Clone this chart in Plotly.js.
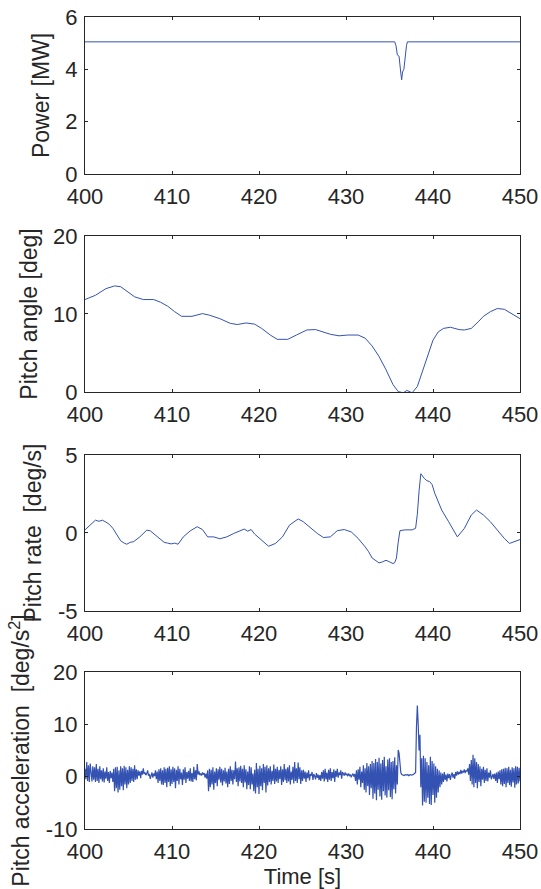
<!DOCTYPE html>
<html>
<head>
<meta charset="utf-8">
<script src="https://cdn.plot.ly/plotly-3.0.1.min.js"></script>
<style>html,body{margin:0;padding:0;background:#fff;}#chart{width:541px;height:889px;}</style>
</head>
<body>
<div id="chart"></div>
<script>
// ---------- DATA ----------
const xTicks = [400, 410, 420, 430, 440, 450];

// Power [MW]
const powerTime = [400, 435.6, 435.75, 435.9, 436.1, 436.2, 436.3, 436.4, 436.5, 436.65, 436.8, 436.95, 437.05, 450];
const powerVal  = [5.05, 5.05, 4.9, 4.55, 4.5, 3.95, 3.85, 3.6, 3.9, 4.0, 4.55, 4.9, 5.05, 5.05];

// Pitch angle [deg]
const angleTime = [400, 401.2, 402.4, 403.4, 404.1, 405, 405.7, 406.7, 407.9, 408.7, 409.5, 410.3, 411.1, 412.3, 413.5, 414.3, 415.5, 416.7, 417.5, 418.5, 419.5, 420.3, 421.3, 422.1, 423.3, 424.3, 425.5, 426.5, 427.4, 428.2, 429.2, 430.2, 431.4, 432.2, 433, 433.8, 434.6, 435.4, 436, 436.6, 437, 437.6, 438.2, 438.8, 439.4, 440, 440.6, 441.2, 442, 443, 443.6, 444.4, 445.2, 445.8, 446.6, 447.4, 448.2, 449, 450];
const angleVal  = [11.85, 12.4, 13.25, 13.6, 13.5, 12.8, 12.2, 11.85, 11.85, 11.5, 11.0, 10.3, 9.7, 9.7, 10.05, 9.85, 9.4, 8.8, 8.65, 8.85, 8.7, 8.15, 7.3, 6.75, 6.75, 7.3, 7.95, 8.0, 7.7, 7.4, 7.2, 7.3, 7.3, 6.9, 5.9, 4.55, 2.85, 0.95, 0.05, -0.1, 0.2, -0.1, 0.7, 2.6, 4.55, 6.65, 7.7, 8.15, 8.3, 8.0, 7.95, 8.15, 9.0, 9.7, 10.3, 10.7, 10.6, 10.05, 9.4];

// Pitch rate [deg/s]
const rateTime = [400, 400.4, 400.8, 401.2, 401.6, 402, 402.4, 402.8, 403.2, 403.6, 404.1, 404.5, 404.8, 405.2, 405.6, 406.3, 407.1, 407.5, 408.3, 409.1, 409.5, 409.9, 410.3, 410.7, 411.3, 412.1, 412.9, 413.5, 414.1, 414.8, 415.5, 416.3, 417.1, 417.9, 418.3, 418.7, 419.1, 419.5, 420.3, 421.1, 421.9, 422.7, 423.5, 424.5, 425.1, 425.9, 426.7, 427.4, 428.2, 429, 429.8, 430.6, 431.4, 432.2, 432.6, 433, 433.4, 433.8, 434.2, 434.6, 435, 435.4, 435.6, 435.8, 436, 436.2, 436.8, 437.6, 438, 438.2, 438.4, 438.6, 439, 439.3, 439.6, 439.9, 440.2, 441, 441.8, 442.8, 443.6, 444.4, 445, 445.8, 446.6, 447.4, 448.2, 448.8, 449.4, 450];
const rateVal  = [0.2, 0.4, 0.6, 0.82, 0.75, 0.82, 0.7, 0.55, 0.3, -0.03, -0.5, -0.65, -0.72, -0.6, -0.55, -0.25, 0.18, 0.14, -0.25, -0.6, -0.65, -0.7, -0.65, -0.72, -0.25, 0.14, 0.4, 0.22, -0.25, -0.25, -0.37, -0.25, -0.03, 0.18, 0.25, 0.12, 0.22, -0.07, -0.46, -0.85, -0.67, -0.25, 0.5, 0.9, 0.72, 0.35, -0.03, -0.29, -0.25, 0.15, 0.22, 0.07, -0.35, -0.89, -1.2, -1.6, -1.75, -1.92, -1.85, -1.75, -1.85, -1.96, -1.9, -1.6, -0.6, 0.15, 0.2, 0.2, 0.3, 1.2, 2.7, 3.8, 3.5, 3.35, 3.3, 3.1, 2.55, 1.47, 0.72, -0.25, 0.29, 1.15, 1.47, 1.15, 0.72, 0.18, -0.35, -0.67, -0.57, -0.42];

// Pitch acceleration [deg/s^2], sampled every 0.1 s from 400 to 450
const accStart = 400;
const accStep = 0.1;
const accVal = [
  1.5,-0.5,2.8,-0.8,2.2,-1.0,2.5,0.2,-0.9,2.0,
  -0.6,1.8,-1.0,2.4,-0.8,1.5,-1.2,2.0,-0.5,1.2,
  -0.9,1.6,-1.1,1.0,-0.4,1.8,-0.8,0.9,-1.2,1.1,
  -0.3,0.8,-1.0,1.5,-2.8,1.8,-2.2,1.9,-3.0,1.2,
  -2.5,2.0,-1.8,1.6,-2.6,2.1,-1.5,1.8,-2.2,1.3,
  -1.5,2.0,-1.2,1.8,-0.8,1.5,-1.0,2.2,-0.6,1.4,
  -0.5,1.2,0.2,1.0,-0.3,1.1,0.4,1.6,0.5,0.8,
  0.3,0.6,1.2,0.2,0.5,-0.4,0.3,0.8,-0.2,0.6,
  0.1,1.2,-0.5,1.0,-1.2,1.4,-0.8,1.6,-1.5,1.2,
  -1.6,1.8,-1.2,1.5,-2.0,1.7,-1.0,2.0,-1.8,1.4,
  -1.4,1.9,-1.0,1.6,-2.2,1.3,-0.8,2.0,-1.5,1.5,
  -0.5,0.8,-1.6,1.4,-0.6,1.8,-1.2,0.9,-0.4,1.1,
  -0.8,1.6,-0.9,0.7,-1.0,1.9,-0.5,1.2,-0.7,2.4,
  0.4,1.0,0.3,0.6,0.2,0.8,0.4,0.7,-0.2,0.6,
  -0.4,1.2,-2.8,1.5,-2.0,1.3,-1.5,1.8,-2.5,1.0,
  -1.2,1.6,-1.8,1.4,-0.6,1.9,-1.1,1.5,-1.7,1.2,
  -0.9,1.7,-1.3,1.0,-2.0,1.5,-1.4,2.0,-0.8,1.3,
  -1.5,1.2,-0.5,2.9,-1.0,1.6,-1.8,1.8,-0.9,2.1,
  -1.2,1.5,-2.0,2.2,-1.1,1.4,-2.4,1.0,-1.6,2.0,
  -2.4,1.8,-1.5,0.6,-2.8,1.3,-3.2,2.6,-2.0,1.5,
  -3.3,2.1,-1.8,1.6,-2.6,2.4,-1.2,1.9,-3.0,2.2,
  -1.7,1.6,-1.0,2.0,-1.5,1.1,-0.8,2.3,-1.4,1.5,
  -0.9,1.9,-1.2,1.3,-0.5,2.0,-1.6,1.4,-1.0,2.4,
  -0.7,1.5,-1.2,1.8,-0.9,2.2,-1.5,1.0,-0.6,1.9,
  -1.3,2.8,-0.8,1.6,-1.2,2.7,-0.5,1.8,-1.4,1.2,
  -0.8,1.3,-0.4,1.0,-1.0,0.8,-0.3,1.2,-0.7,0.5,
  0.2,0.9,-0.6,0.5,0.1,-0.5,0.7,-0.2,0.4,-0.6,
  0.3,-0.8,0.9,-0.4,1.2,-0.9,1.5,-0.5,0.8,-1.0,
  1.3,-0.6,1.6,-0.8,0.9,-0.3,1.4,-1.0,1.1,0.0,
  1.5,-0.2,0.8,0.3,1.2,-0.4,0.9,0.5,0.2,0.8,
  0.3,0.5,0.1,0.6,0.2,0.4,-0.1,0.3,0.6,0.0,
  0.5,-0.8,1.2,-1.5,1.4,-0.6,1.9,-2.0,1.0,-1.2,
  2.2,-2.5,1.6,-3.0,2.6,-1.8,2.0,-3.5,2.4,-2.2,
  3.0,-4.2,2.6,-3.2,3.4,-4.5,2.8,-2.5,3.6,-3.8,
  2.5,-4.4,3.2,-2.8,3.8,-3.6,2.0,-4.0,3.3,-2.6,
  3.5,-3.9,2.8,-4.3,3.0,-2.4,3.7,-3.2,2.2,-1.5,
  5.1,4.5,2.0,0.8,0.4,0.3,0.3,0.2,0.4,0.3,
  0.3,0.4,0.2,0.3,0.4,0.3,0.3,0.4,0.5,0.6,
  0.8,9.5,13.6,10.0,5.0,8.0,-2.0,3.5,-5.5,4.0,
  -4.8,3.5,-5.0,2.8,-4.0,2.2,-5.2,3.8,-5.4,3.0,
  -3.5,2.5,-5.0,2.0,-4.0,1.5,-3.0,1.2,-2.0,0.8,
  -1.5,0.6,-1.0,0.9,-0.6,0.4,-0.9,0.6,-0.3,0.5,
  -0.6,0.3,0.8,-0.2,0.5,-0.4,0.9,0.2,1.0,0.4,
  0.9,0.5,1.3,0.6,1.1,0.8,1.4,0.7,1.2,1.0,
  1.6,0.4,2.4,-0.8,3.2,-1.5,4.2,-2.0,3.5,-1.2,
  2.8,-2.2,2.4,-1.0,2.0,-1.8,1.5,-0.6,1.9,-1.2,
  1.3,-0.8,1.6,-0.9,0.8,-0.2,1.2,-0.5,0.3,0.5,
  -0.4,0.6,-0.8,0.8,-1.2,1.0,-0.5,1.2,-1.5,1.4,
  -1.8,1.5,-1.4,1.7,-2.0,1.6,-1.2,1.9,-1.6,1.3,
  -1.9,1.8,-1.1,1.6,-2.1,2.0,-1.5,1.9,-1.3,1.7,
  -0.9
];
const accTime = accVal.map((_, i) => +(accStart + i * accStep).toFixed(2));

const yTitles = ['Power [MW]', 'Pitch angle [deg]', 'Pitch rate\u00a0\u00a0[deg/s]', 'Pitch acceleration\u00a0\u00a0[deg/s<sup>2</sup>]'];
const yRanges = [[0, 6], [0, 20], [-5, 5], [-10, 20]];
const yTicks = [[0, 2, 4, 6], [0, 10, 20], [-5, 0, 5], [-10, 0, 10, 20]];

// ---------- STYLE ----------
const lineColor = '#3452b2';
const axColor = '#262626';
const fontFam = '"Liberation Sans", Arial, sans-serif';

const traces = [
  {x: powerTime, y: powerVal, xaxis: 'x', yaxis: 'y', w: 1},
  {x: angleTime, y: angleVal, xaxis: 'x2', yaxis: 'y2', w: 1},
  {x: rateTime, y: rateVal, xaxis: 'x3', yaxis: 'y3', w: 1},
  {x: accTime, y: accVal, xaxis: 'x4', yaxis: 'y4', w: 1.2}
].map(t => {
  const w = t.w; delete t.w;
  return Object.assign(t, {type: 'scatter', mode: 'lines', line: {color: lineColor, width: w}, hoverinfo: 'skip'});
});

const domains = [[0.8067, 1], [0.5382, 0.7303], [0.2685, 0.4606], [0, 0.1933]];

function axBase() {
  return {
    showline: true, linecolor: axColor, linewidth: 1, mirror: 'ticks',
    ticks: 'inside', ticklen: 3, tickcolor: axColor, tickwidth: 1,
    showgrid: false, zeroline: false,
    tickfont: {family: fontFam, size: 22, color: axColor}
  };
}

const layout = {
  width: 541, height: 889,
  margin: {l: 85, r: 21, t: 17, b: 60},
  paper_bgcolor: '#ffffff', plot_bgcolor: '#ffffff',
  showlegend: false,
  font: {family: fontFam, color: axColor}
};

for (let i = 0; i < 4; i++) {
  const sx = i === 0 ? '' : String(i + 1);
  const xa = Object.assign(axBase(), {
    range: [400, 450], tickmode: 'array', tickvals: xTicks, ticktext: xTicks.map(String),
    anchor: 'y' + sx, domain: [0, 1], ticklabelstandoff: 3
  });
  if (i === 3) xa.title = {text: 'Time [s]', font: {family: fontFam, size: 22, color: axColor}, standoff: 6};
  const ya = Object.assign(axBase(), {
    range: yRanges[i], tickmode: 'array', tickvals: yTicks[i], ticktext: yTicks[i].map(String),
    anchor: 'x' + sx, domain: domains[i], ticklabelstandoff: 2,
    title: {text: yTitles[i], font: {family: fontFam, size: 23, color: axColor}, standoff: 9}
  });
  layout['xaxis' + sx] = xa;
  layout['yaxis' + sx] = ya;
}

Plotly.newPlot('chart', traces, layout, {staticPlot: true, displayModeBar: false});
</script>
</body>
</html>
